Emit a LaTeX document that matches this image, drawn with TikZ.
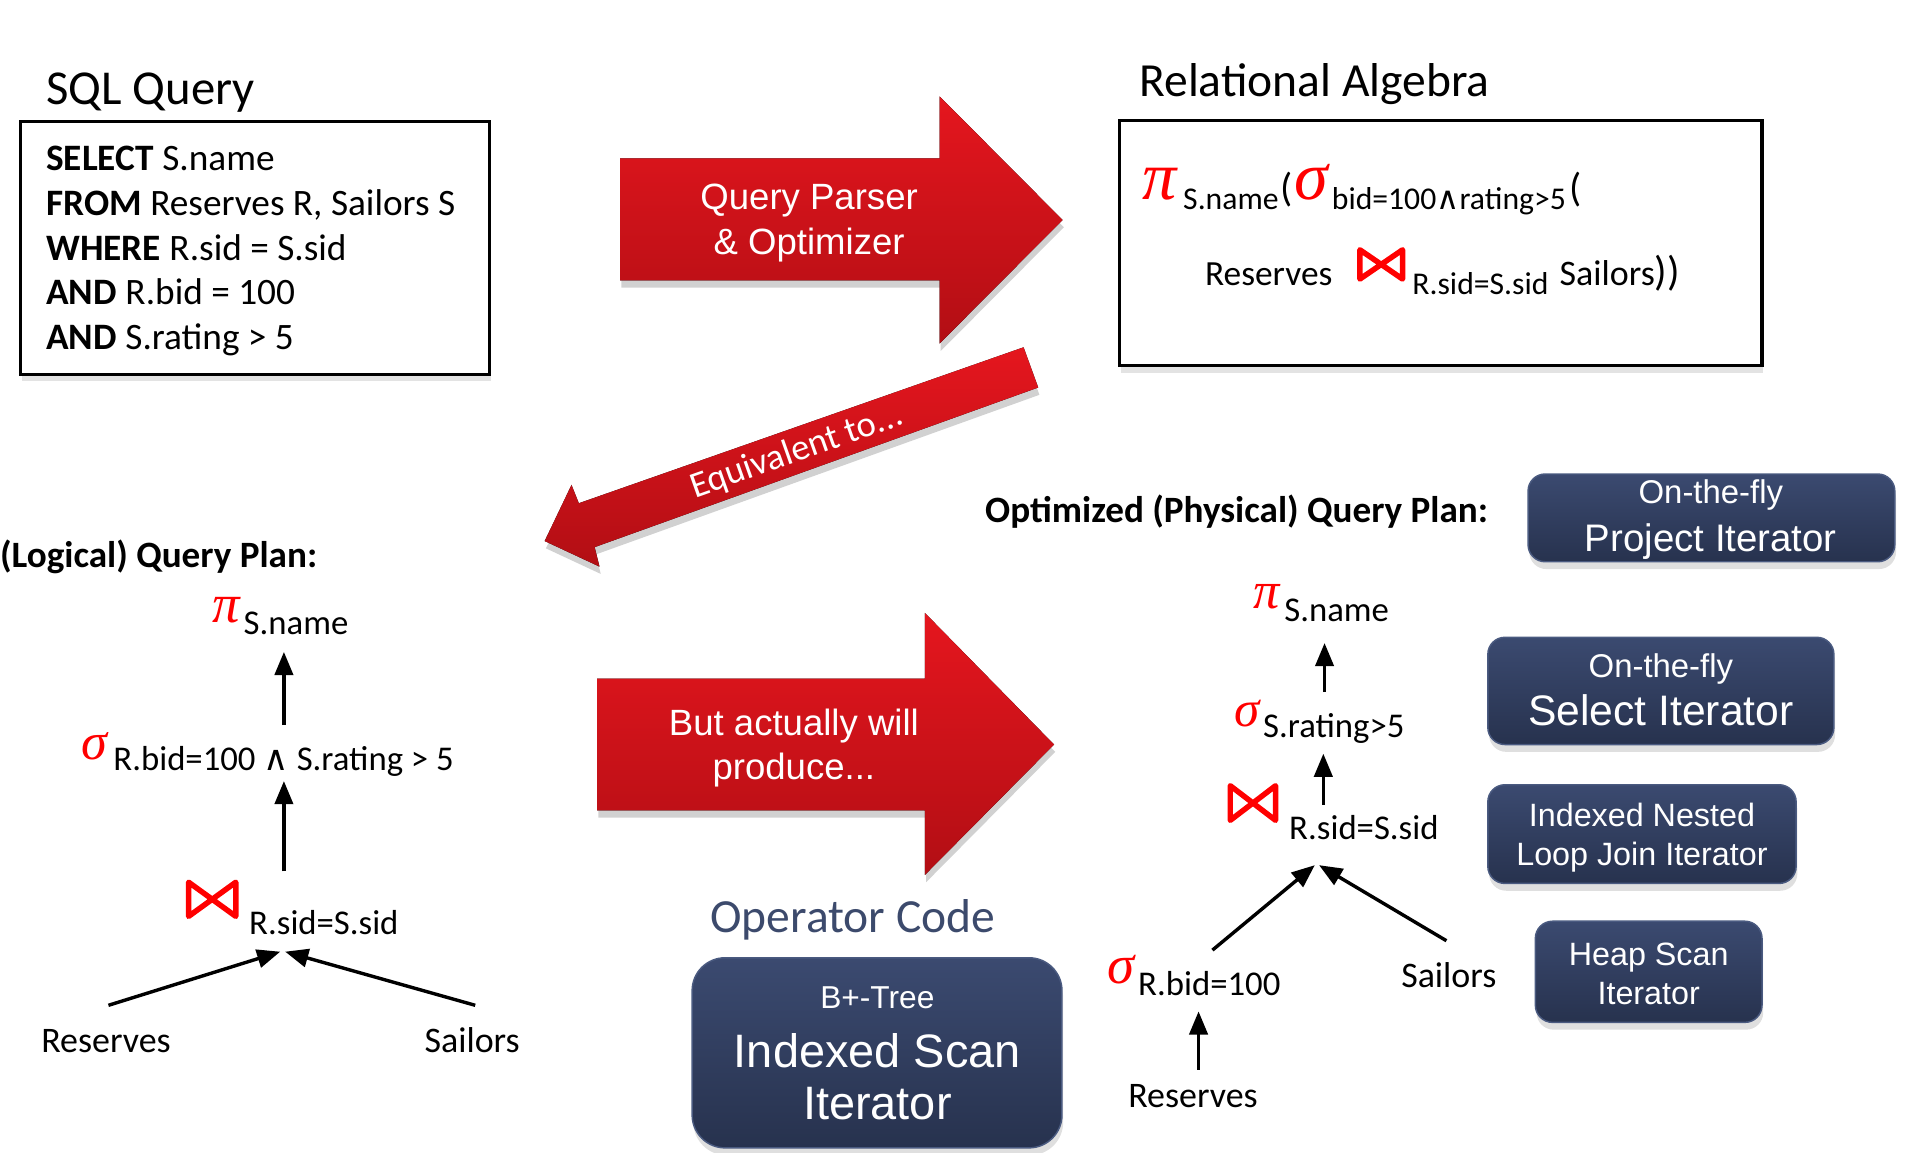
\documentclass[tikz,border=0pt]{standalone}
\usepackage{fontspec}
\setmainfont{Carlito}
\newfontfamily\arialf{Liberation Sans}
\newfontfamily\dejavuf{DejaVu Sans}
\newfontfamily\greekf{Liberation Serif}
\usetikzlibrary{arrows.meta,shadows}
\definecolor{redtop}{HTML}{E5161E}
\definecolor{redbot}{HTML}{B20E14}
\definecolor{navytop}{HTML}{3B4A70}
\definecolor{navybot}{HTML}{27324E}
\definecolor{navyline}{HTML}{4A5A80}
\definecolor{opcode}{HTML}{3C4A6C}
\definecolor{symred}{HTML}{FF0000}
\newcommand{\myfs}[1]{\fontsize{#1}{#1}\selectfont}
\begin{document}
\begin{tikzpicture}[x=1pt,y=-1pt,
  txt/.style={inner sep=0pt,outer sep=0pt,anchor=base west},
  ctxt/.style={inner sep=0pt,outer sep=0pt,anchor=base},
  gsym/.style={inner sep=0pt,outer sep=0pt,anchor=base west,text=symred},
  framebox/.style={anchor=north west,inner sep=0pt,outer sep=0pt,draw=black,line width=2.5pt,fill=white,
    drop shadow={shadow xshift=1pt,shadow yshift=-6pt,opacity=0.22}},
  redarrow/.style={top color=redtop,bottom color=redbot,
    preaction={fill=black,opacity=0.18,transform canvas={xshift=1pt,yshift=-6pt}}},
  navybox/.style={anchor=north west,inner sep=0pt,outer sep=0pt,rounded corners=14pt,
    top color=navytop,bottom color=navybot,draw=navyline,line width=1.2pt,
    drop shadow={shadow xshift=1pt,shadow yshift=-6pt,opacity=0.25}},
  flow/.style={line width=2.8pt,-{Triangle[length=19pt,width=15pt]}},
  bowtie/.style={draw=symred,line width=4.5pt,line join=round},
  wtxt/.style={ctxt,text=white}
]
\useasboundingbox (0,0) rectangle (1565,945.4);

% ---------- SQL query ----------
\node[txt,font=\myfs{40}] (sqltitle) at (38,86) {SQL Query};
\node[framebox,minimum width=385pt,minimum height=207pt] (sqlbox) at (17,100) {};
\node[txt,font=\myfs{30.6}] (q1) at (38,140) {\textbf{SELECT} S.name};
\node[txt,font=\myfs{30.6}] (q2) at (38,177) {\textbf{FROM} Reserves R, Sailors S};
\node[txt,font=\myfs{30.6}] (q3) at (38,214) {\textbf{WHERE} R.sid = S.sid};
\node[txt,font=\myfs{30.6}] (q4) at (38,250) {\textbf{AND} R.bid = 100};
\node[txt,font=\myfs{30.6}] (q5) at (38,287) {\textbf{AND} S.rating > 5};

% ---------- arrow 1 ----------
\fill[redarrow] (509,130) -- (771,130) -- (771,79) -- (872,180.5) -- (771,282) -- (771,230) -- (509,230) -- cycle;
\node[wtxt,font=\arialf\myfs{30}] (parser1) at (664,172) {Query Parser};
\node[wtxt,font=\arialf\myfs{30}] (parser2) at (664,208.5) {\& Optimizer};

% ---------- relational algebra ----------
\node[txt,font=\myfs{39}] (ratitle) at (935,79.5) {Relational Algebra};
\node[framebox,minimum width=527pt,minimum height=201pt] (rabox) at (919,99) {};
\node[gsym,font=\greekf\itshape\myfs{56}] (rapi) at (938,164) {π};
\node[txt,font=\myfs{26}] (rasub1) at (971,172) {S.name};
\node[txt,font=\myfs{33}] (rapar1) at (1051,165) {(};
\node[gsym,font=\greekf\itshape\myfs{56}] (rasig) at (1062,164) {σ};
\node[txt,font=\myfs{26}] (rasub2) at (1093,172) {bid=100{\dejavuf ∧}rating>5};
\node[txt,font=\myfs{33}] (rapar2) at (1288,165) {(};
\node[txt,font=\myfs{29}] (rares) at (989,234) {Reserves};
\draw[bowtie] (1116,229) -- (1116,205) -- (1151,229) -- (1151,205) -- cycle;
\node[txt,font=\myfs{26}] (rasub3) at (1159,242) {R.sid=S.sid};
\node[txt,font=\myfs{29.5}] (rasai) at (1280,234) {Sailors{\myfs{34}))}};

% ---------- equivalent arrow ----------
\fill[redarrow] (840,285) -- (475,413) -- (469,398) -- (447,444) -- (492,465) -- (488,449) -- (852,318) -- cycle;
\node[ctxt,rotate=19.5,font=\myfs{30},text=white] (equiv) at (656.6,378.3) {Equivalent to...};

% ---------- logical plan ----------
\node[txt,font=\bfseries\myfs{30.5}] (logtitle) at (0,466) {(Logical) Query Plan:};
\node[gsym,font=\greekf\itshape\myfs{45}] (lpi) at (174,511) {π};
\node[txt,font=\myfs{28.5}] (lpisub) at (200,521) {S.name};
\node[gsym,font=\greekf\itshape\myfs{43}] (lsig) at (67,623) {σ};
\node[txt,font=\myfs{28.5}] (lsigsub) at (93,632.5) {R.bid=100 {\dejavuf ∧} S.rating > 5};
\draw[bowtie] (154.8,752) -- (154.8,724) -- (193.5,752) -- (193.5,724) -- cycle;
\node[txt,font=\myfs{28.5}] (ljoinsub) at (204.5,767) {R.sid=S.sid};
\node[ctxt,font=\myfs{29.5}] (lres) at (87,863.6) {Reserves};
\node[ctxt,font=\myfs{29.5}] (lsai) at (387.5,863.6) {Sailors};
\coordinate (la1s) at (233,595); \coordinate (la1e) at (233,535);
\coordinate (la2s) at (233,715); \coordinate (la2e) at (233,641);
\coordinate (la3s) at (89,825);  \coordinate (la3e) at (230,781);
\coordinate (la4s) at (390,825); \coordinate (la4e) at (234,781);
\draw[flow] (la1s) -- (la1e);
\draw[flow] (la2s) -- (la2e);
\draw[flow] (la3s) -- (la3e);
\draw[flow] (la4s) -- (la4e);

% ---------- arrow 2 ----------
\fill[redarrow] (490,557) -- (759,557) -- (759,503) -- (865,611) -- (759,718) -- (759,665) -- (490,665) -- cycle;
\node[wtxt,font=\arialf\myfs{30}] (prod1) at (651.5,603.8) {But actually will};
\node[wtxt,font=\arialf\myfs{30}] (prod2) at (651.5,639.3) {produce...};

% ---------- operator code ----------
\node[txt,font=\myfs{39}] (optitle) at (583,765.6) {\textcolor{opcode}{Operator Code}};
\node[navybox,rounded corners=27pt,minimum width=303.5pt,minimum height=156pt] (btree) at (568,786) {};
\node[wtxt,font=\arialf\myfs{26}] (bt1) at (720,828) {B+-Tree};
\node[wtxt,font=\arialf\myfs{38.5}] (bt2) at (720,876) {Indexed Scan};
\node[wtxt,font=\arialf\myfs{38.5}] (bt3) at (720,919) {Iterator};

% ---------- physical plan ----------
\node[txt,font=\bfseries\myfs{30.5}] (phystitle) at (808.5,429) {Optimized (Physical) Query Plan:};
\node[gsym,font=\greekf\itshape\myfs{43}] (ppi) at (1029,499) {π};
\node[txt,font=\myfs{28.5}] (ppisub) at (1054,509.7) {S.name};
\node[gsym,font=\greekf\itshape\myfs{42}] (psig) at (1013,596) {σ};
\node[txt,font=\myfs{28.5}] (psigsub) at (1036.6,605.4) {S.rating>5};
\draw[bowtie] (1009.6,673.2) -- (1009.6,644.8) -- (1046.8,673.2) -- (1046.8,644.8) -- cycle;
\node[txt,font=\myfs{28.5}] (pjoinsub) at (1058,688.6) {R.sid=S.sid};
\node[gsym,font=\greekf\itshape\myfs{45}] (psig2) at (909,807) {σ};
\node[txt,font=\myfs{28.5}] (psig2sub) at (934,817) {R.bid=100};
\node[ctxt,font=\myfs{29.5}] (psai) at (1189,810.6) {Sailors};
\node[ctxt,font=\myfs{29.5}] (pres) at (979,909) {Reserves};
\coordinate (pa1s) at (1087,568);   \coordinate (pa1e) at (1087,527.7);
\coordinate (pa2s) at (1086,660.6); \coordinate (pa2e) at (1086,618.5);
\coordinate (pa3s) at (995,779.7);  \coordinate (pa3e) at (1079,710);
\coordinate (pa4s) at (1187,772);   \coordinate (pa4e) at (1082.5,710);
\coordinate (pa5s) at (983.6,877.7); \coordinate (pa5e) at (983.6,830);
\draw[flow] (pa1s) -- (pa1e);
\draw[flow] (pa2s) -- (pa2e);
\draw[flow] (pa3s) -- (pa3e);
\draw[flow] (pa4s) -- (pa4e);
\draw[flow] (pa5s) -- (pa5e);

% ---------- iterator boxes ----------
\node[navybox,minimum width=301pt,minimum height=72pt] (projbox) at (1254,389) {};
\node[wtxt,font=\arialf\myfs{27}] (proj1) at (1404,413.5) {On-the-fly};
\node[wtxt,font=\arialf\myfs{31.5}] (proj2) at (1404,452.5) {Project Iterator};

\node[navybox,minimum width=284pt,minimum height=88pt] (selbox) at (1221,523) {};
\node[wtxt,font=\arialf\myfs{27}] (sel1) at (1363,555.8) {On-the-fly};
\node[wtxt,font=\arialf\myfs{35}] (sel2) at (1363,595) {Select Iterator};

\node[navybox,minimum width=253pt,minimum height=81pt] (inljbox) at (1221,644) {};
\node[wtxt,font=\arialf\myfs{26.5}] (inlj1) at (1347.5,678.5) {Indexed Nested};
\node[wtxt,font=\arialf\myfs{26.5}] (inlj2) at (1347.5,710.5) {Loop Join Iterator};

\node[navybox,minimum width=186pt,minimum height=83pt] (heapbox) at (1260,756) {};
\node[wtxt,font=\arialf\myfs{26.5}] (heap1) at (1353,792) {Heap Scan};
\node[wtxt,font=\arialf\myfs{26.5}] (heap2) at (1353,824) {Iterator};
\end{tikzpicture}
\end{document}
